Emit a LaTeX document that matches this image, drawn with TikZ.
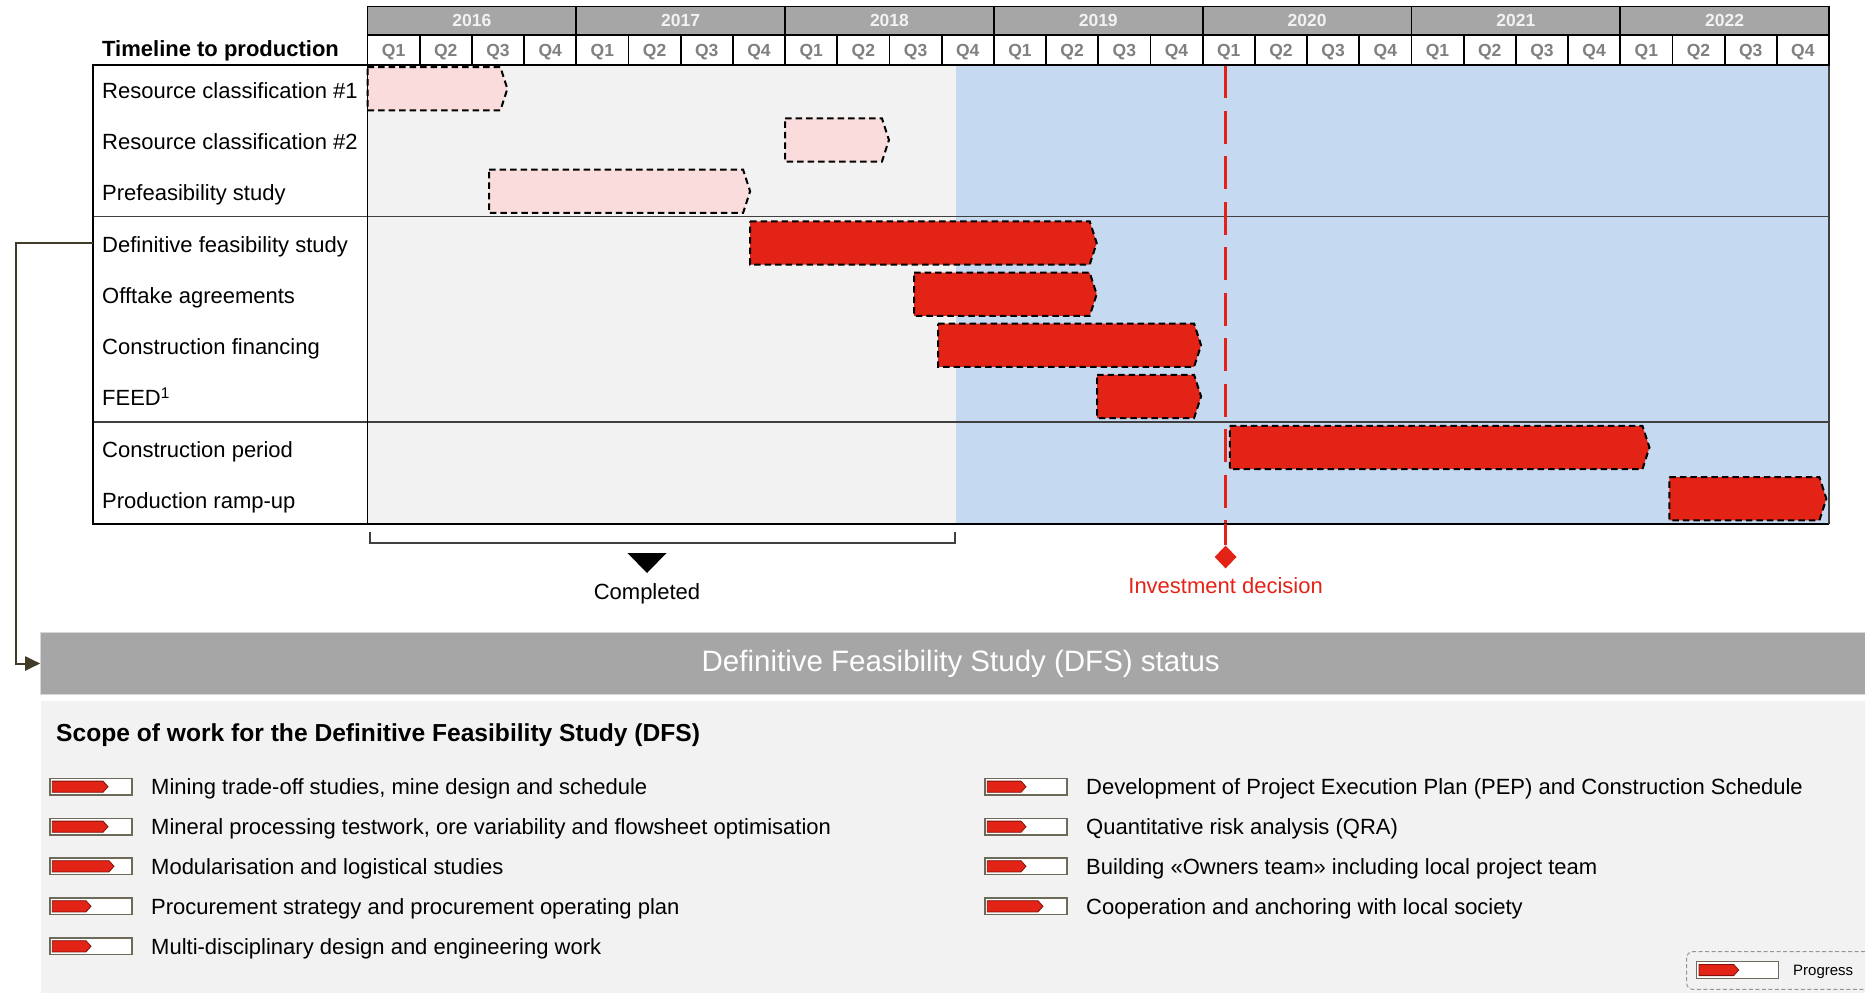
\documentclass[tikz,border=0pt]{standalone}
\usepackage{fontspec}
\setmainfont{Liberation Sans}
\usetikzlibrary{arrows.meta,shapes.geometric}

\definecolor{barred}{RGB}{227,35,22}
\definecolor{barpink}{RGB}{250,220,220}
\definecolor{panelgrey}{RGB}{242,242,242}
\definecolor{futureblue}{RGB}{197,217,241}
\definecolor{headgrey}{RGB}{166,166,166}
\definecolor{qgrey}{RGB}{128,128,128}
\definecolor{connolive}{RGB}{64,60,40}
\definecolor{iconframe}{RGB}{110,106,90}
\definecolor{sepgrey}{RGB}{64,64,64}

\newcommand{\lblfont}{\fontsize{22}{26}\selectfont}
\newcommand{\hdrfont}{\bfseries\fontsize{17.5}{19}\selectfont}

% Gantt bar with a small arrow point: style, start quarter, tip quarter, row centre
\newcommand{\ganttbar}[4]{%
  \draw[#1] ({367.5+52.196*(#2)},{#4-21.6}) -- ({367.5+52.196*(#3)-7},{#4-21.6})
    -- ({367.5+52.196*(#3)},{#4}) -- ({367.5+52.196*(#3)-7},{#4+21.6})
    -- ({367.5+52.196*(#2)},{#4+21.6}) -- cycle;}

% progress gauge: name, left edge, centre y, arrow tip offset
\newcommand{\progicon}[4]{%
  \node[iconbox,anchor=west] (#1) at (#2,#3) {};
  \filldraw[iconarrow] ({#2+2.3},{#3-5.6}) -- ({#2+#4-5},{#3-5.6}) -- ({#2+#4},{#3})
    -- ({#2+#4-5},{#3+5.6}) -- ({#2+2.3},{#3+5.6}) -- cycle;}

\tikzset{
  yearcell/.style={draw=black,line width=1.8pt,fill=headgrey,minimum width=208.784pt,
    minimum height=28.5pt,inner sep=0pt,text=panelgrey,font=\hdrfont,
    text height=12.5pt,text depth=0pt},
  qcell/.style={draw=black,line width=1.8pt,fill=white,minimum width=52.196pt,
    minimum height=30pt,inner sep=0pt,text=qgrey,font=\hdrfont,
    text height=12.5pt,text depth=0pt},
  rowlabel/.style={anchor=base west,inner sep=0pt,font=\lblfont},
  donebar/.style={fill=barpink,draw=black,line width=2pt,dash pattern=on 6.5pt off 4pt},
  openbar/.style={fill=barred,draw=black,line width=2pt,dash pattern=on 6.5pt off 4pt},
  sepline/.style={draw=sepgrey,line width=1.3pt},
  conn/.style={draw=connolive,line width=2pt,-{Triangle[length=15pt,width=14pt]}},
  iconbox/.style={draw=iconframe,line width=1.3pt,fill=white,minimum width=82pt,
    minimum height=16.6pt,inner sep=0pt,outer sep=0pt},
  iconarrow/.style={fill=barred,draw=barred!55!black,line width=0.8pt},
  itemtext/.style={anchor=base west,inner sep=0pt,font=\lblfont},
}

\begin{document}
\begin{tikzpicture}[x=1pt,y=-1pt]
\useasboundingbox (0,0) rectangle (1865,993);

% chart background: completed period and remaining period
\fill[panelgrey] (367.5,65) rectangle (955.8,524);
\fill[futureblue] (955.8,65) rectangle (1829,524);

% group separators
\draw[sepline] (92.8,216.7) -- (1829,216.7);
\draw[sepline] (92.8,422) -- (1829,422);

% investment decision marker line
\coordinate (invtop) at (1225.6,65);
\coordinate (invbot) at (1225.6,524);
\draw[barred,line width=3.5pt,dash pattern=on 33pt off 12.5pt] (invtop) -- (invbot);

% activity bars
\ganttbar{donebar}{0}{2.68}{88.8}
\ganttbar{donebar}{8.0}{9.99}{140}
\ganttbar{donebar}{2.33}{7.33}{191.3}
\ganttbar{openbar}{7.33}{13.97}{243}
\ganttbar{openbar}{10.47}{13.97}{294.2}
\ganttbar{openbar}{10.93}{15.97}{345.2}
\ganttbar{openbar}{13.98}{15.97}{396.4}
\ganttbar{openbar}{16.52}{24.56}{447.5}
\ganttbar{openbar}{24.94}{27.95}{498.7}

% table frame
\draw[black,line width=1.6pt] (367.5,65) -- (92.8,65) -- (92.8,524) -- (1829,524);
\draw[black,line width=1.8pt] (367.5,65) -- (367.5,524);
\draw[sepline] (1829,65) -- (1829,524);

% header: years and quarters
\foreach \yr [count=\i from 0] in {2016,2017,2018,2019,2020,2021,2022}
  \node[yearcell] (y\yr) at ({367.5+208.784*\i+104.392},20.75) {\yr};
\foreach \q in {0,...,27}{
  \pgfmathtruncatemacro{\qn}{mod(\q,4)+1}
  \node[qcell] (q\q) at ({367.5+52.196*\q+26.098},50) {Q\qn};
}
\node[anchor=base west,inner sep=0pt,font=\bfseries\lblfont] (ttl) at (102,56.7) {Timeline to production};

% row labels
\node[rowlabel] (l1) at (102,98.3) {Resource classification \#1};
\node[rowlabel] (l2) at (102,149.5) {Resource classification \#2};
\node[rowlabel] (l3) at (102,200.8) {Prefeasibility study};
\node[rowlabel] (l4) at (102,252.5) {Definitive feasibility study};
\node[rowlabel] (l5) at (102,303.7) {Offtake agreements};
\node[rowlabel] (l6) at (102,354.7) {Construction financing};
\node[rowlabel] (l7) at (102,405.9) {FEED\textsuperscript{1}};
\node[rowlabel] (l8) at (102,457) {Construction period};
\node[rowlabel] (l9) at (102,508.2) {Production ramp-up};

% completed bracket
\draw[sepgrey,line width=2pt] (370,532) -- (370,543) -- (955,543) -- (955,532);
\fill[black] (627.5,553) -- (666.5,553) -- (647,573) -- cycle;
\node[anchor=base,inner sep=0pt,font=\lblfont] (done) at (647,599) {Completed};

% investment decision
\node[diamond,fill=barred,minimum width=22pt,minimum height=23pt,inner sep=0pt] (invdia) at (1225.6,557) {};
\draw[barred,line width=3.5pt] (invbot) -- (invdia.north);
\node[anchor=base,inner sep=0pt,font=\lblfont,text=barred] (invtxt) at (1225.6,593) {Investment decision};

% lower panel
\fill[panelgrey] (40.7,701) rectangle (1870,993);
\node[fill=headgrey,draw={rgb,255:red,215;green,215;blue,215},line width=1pt,
  minimum width=1840pt,minimum height=61.5pt,inner sep=0pt,text=white,
  font=\fontsize{29.5}{32}\selectfont] (head) at (960.7,663.5) {Definitive Feasibility Study (DFS) status};

% link from the study row to the status panel
\coordinate (dfsL) at (92.8,243);
\coordinate (bend) at (15.7,243);
\draw[conn] (dfsL) -- (bend) |- (head.west);

\node[anchor=base west,inner sep=0pt,font=\bfseries\fontsize{24.6}{28}\selectfont] (scope) at (56,741.6)
  {Scope of work for the Definitive Feasibility Study (DFS)};

% work items, left column
\progicon{pa}{50}{786.7}{58}
\progicon{pb}{50}{826.7}{58}
\progicon{pc}{50}{866.3}{64}
\progicon{pd}{50}{906.3}{41}
\progicon{pe}{50}{946.3}{41}
\node[itemtext] (ta) at (151,794.6) {Mining trade-off studies, mine design and schedule};
\node[itemtext] (tb) at (151,834.6) {Mineral processing testwork, ore variability and flowsheet optimisation};
\node[itemtext] (tc) at (151,874.2) {Modularisation and logistical studies};
\node[itemtext] (td) at (151,914.2) {Procurement strategy and procurement operating plan};
\node[itemtext] (te) at (151,954.2) {Multi-disciplinary design and engineering work};

% work items, right column
\progicon{pf}{985}{786.7}{41}
\progicon{pg}{985}{826.7}{41}
\progicon{ph}{985}{866.3}{41}
\progicon{pi}{985}{906.3}{58}
\node[itemtext] (tf) at (1086,794.6) {Development of Project Execution Plan (PEP) and Construction Schedule};
\node[itemtext] (tg) at (1086,834.6) {Quantitative risk analysis (QRA)};
\node[itemtext] (th) at (1086,874.2) {Building «Owners team» including local project team};
\node[itemtext] (ti) at (1086,914.2) {Cooperation and anchoring with local society};

% legend
\draw[draw={rgb,255:red,150;green,150;blue,150},line width=1pt,dash pattern=on 4pt off 2.5pt,rounded corners=6pt]
  (1686.7,951.7) rectangle (1885,989.3);
\progicon{pleg}{1696.7}{970}{42}
\node[anchor=base west,inner sep=0pt,font=\fontsize{15}{18}\selectfont] (legtxt) at (1793,975.4) {Progress};
\end{tikzpicture}
\end{document}
